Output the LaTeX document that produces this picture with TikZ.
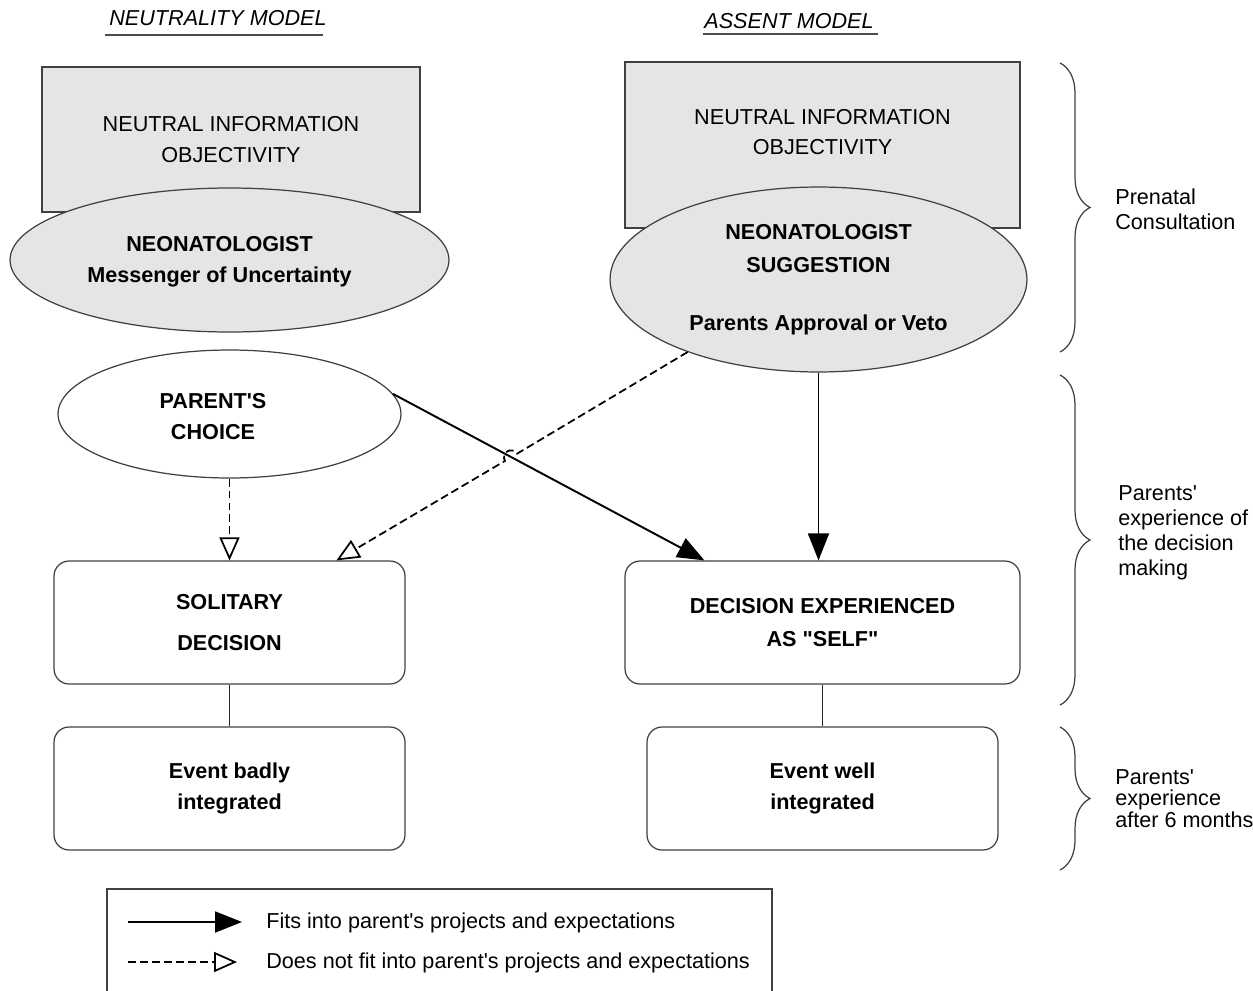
\documentclass[tikz,border=0pt]{standalone}
\usepackage{fontspec}
\setmainfont{Liberation Sans}[Ligatures=TeXOff]
\usetikzlibrary{shapes.geometric, arrows.meta, decorations.pathreplacing, calc}

\begin{document}
\begin{tikzpicture}[x=0.02cm, y=-0.02cm, font=\fontsize{12.3}{17.6}\selectfont]
% Define styles
\tikzstyle{infobox} = [rectangle, draw=black!75, fill=black!10, line width=0.7pt, align=center, inner sep=0pt]
\tikzstyle{doctor} = [ellipse, draw=black!75, fill=black!10, line width=0.7pt, align=center, inner sep=0pt, font=\fontsize{12.3}{17.6}\selectfont\bfseries]
\tikzstyle{choice} = [ellipse, draw=black!75, fill=white, line width=0.7pt, align=center, inner sep=0pt, font=\fontsize{12.3}{17.6}\selectfont\bfseries]
\tikzstyle{outcome} = [rectangle, rounded corners=0.3cm, draw=black!75, line width=0.7pt, minimum width=7.02cm, minimum height=2.46cm, align=center, inner sep=0pt, font=\fontsize{12.3}{17.6}\selectfont\bfseries]
\tikzstyle{fitarrow} = [line width=1.1pt, -{Triangle[length=0.54cm, width=0.42cm]}]
\tikzstyle{misfit} = [line width=1pt, dash pattern=on 4.5pt off 2.3pt, -{Triangle[open, length=0.46cm, width=0.4cm]}]
\tikzstyle{phasebrace} = [decorate, decoration={brace, amplitude=0.6cm}, draw=black!75, line width=0.7pt]
\tikzstyle{sidenote} = [anchor=west, align=left, inner sep=0pt, font=\fontsize{12.3}{14.2}\selectfont]

\useasboundingbox (0,0) rectangle (1253,990);
\clip (0,0) rectangle (1253,990);

% Titles
\node (titleN) at (218,18) [font=\fontsize{12.3}{14}\selectfont\itshape] {NEUTRALITY MODEL};
\node (titleA) at (789,21) [font=\fontsize{12.3}{14}\selectfont\itshape] {ASSENT MODEL};
\draw [black!70, line width=0.9pt] (105,35) -- (323,35);
\draw [black!70, line width=0.9pt] (703,34) -- (878,34);

% Prenatal consultation
\node (infoN) [infobox, minimum width=7.56cm, minimum height=2.9cm] at (231,139.5) {NEUTRAL INFORMATION\\OBJECTIVITY};
\node (neoN) [doctor, minimum width=8.78cm, minimum height=2.88cm,
  label={[align=center, xshift=-0.2cm, yshift=-0.03cm, font=\fontsize{12.3}{17.6}\selectfont\bfseries]center:NEONATOLOGIST\\Messenger of Uncertainty}] at (229.5,260) {};
\node (infoA) [infobox, minimum width=7.9cm, minimum height=3.32cm,
  label={[align=center, yshift=0.26cm]center:NEUTRAL INFORMATION\\[-0.6pt]OBJECTIVITY}] at (822.5,145) {};
\node (neoA) [doctor, minimum width=8.34cm, minimum height=3.7cm] at (818.5,279.5) {NEONATOLOGIST\\[1.1pt]SUGGESTION\\[15.3pt]Parents Approval or Veto};

% Decision making
\node (parent) [choice, minimum width=6.86cm, minimum height=2.56cm,
  label={[align=center, xshift=-0.33cm, yshift=-0.05cm, font=\fontsize{12.3}{17.6}\selectfont\bfseries]center:PARENT'S\\CHOICE}] at (229.5,414) {};
\node (solitary) [outcome] at (229.5,622.5) {SOLITARY\\[5.6pt]DECISION};
\node (self) [outcome, minimum width=7.9cm] at (822.5,622.5) {DECISION EXPERIENCED\\[1.1pt]AS "SELF"};

% After 6 months
\node (badly) [outcome] at (229.5,788.5) {Event badly\\integrated};
\node (well) [outcome] at (822.5,788.5) {Event well\\integrated};

% Draw arrows
\coordinate (hop) at (511,457.3);
\coordinate (solTip) at ($(solitary.north west)+(283,0)$);
\coordinate (selfTip) at ($(self.north west)+(80,0)$);
\draw [fitarrow] (parent.7) -- (selfTip);
\draw [misfit] (neoA.209) -- ($(hop)+(-30.8:7)$) arc[start angle=-30.8, end angle=-210.8, radius=7] -- (solTip);
\draw [misfit] (parent.south) -- (solitary.north);
\draw [fitarrow] (neoA.south) -- (neoA.south |- self.north);
\draw [black!85, line width=0.9pt] (solitary.south) -- (badly.north);
\draw [black!85, line width=0.9pt] (self.south) -- (well.north);

% Phases
\draw [phasebrace] (1060,63) -- (1060,352);
\draw [phasebrace] (1060,375) -- (1060,705);
\draw [phasebrace] (1060,727) -- (1060,870);
\node (prenatal) [sidenote] at (1115,209.5) {Prenatal\\Consultation};
\node (during) [sidenote] at (1118,533) {Parents'\\experience of\\the decision\\making};
\node (after) [sidenote, font=\fontsize{12.3}{12.2}\selectfont] at (1115,798.5) {Parents'\\experience\\after 6 months};

% Legend
\draw [black!75, line width=0.7pt] (107,1000) -- (107,889) -- (772,889) -- (772,1000);
\coordinate (fitA) at (128,922);
\coordinate (fitB) at (242,922);
\coordinate (misA) at (128,962);
\coordinate (misB) at (237,962);
\draw [fitarrow] (fitA) -- (fitB);
\draw [misfit] (misA) -- (misB);
\node (fitText) [anchor=west, inner sep=0pt] at (266,923) {Fits into parent's projects and expectations};
\node (misText) [anchor=west, inner sep=0pt] at (266,963) {Does not fit into parent's projects and expectations};

\end{tikzpicture}
\end{document}
